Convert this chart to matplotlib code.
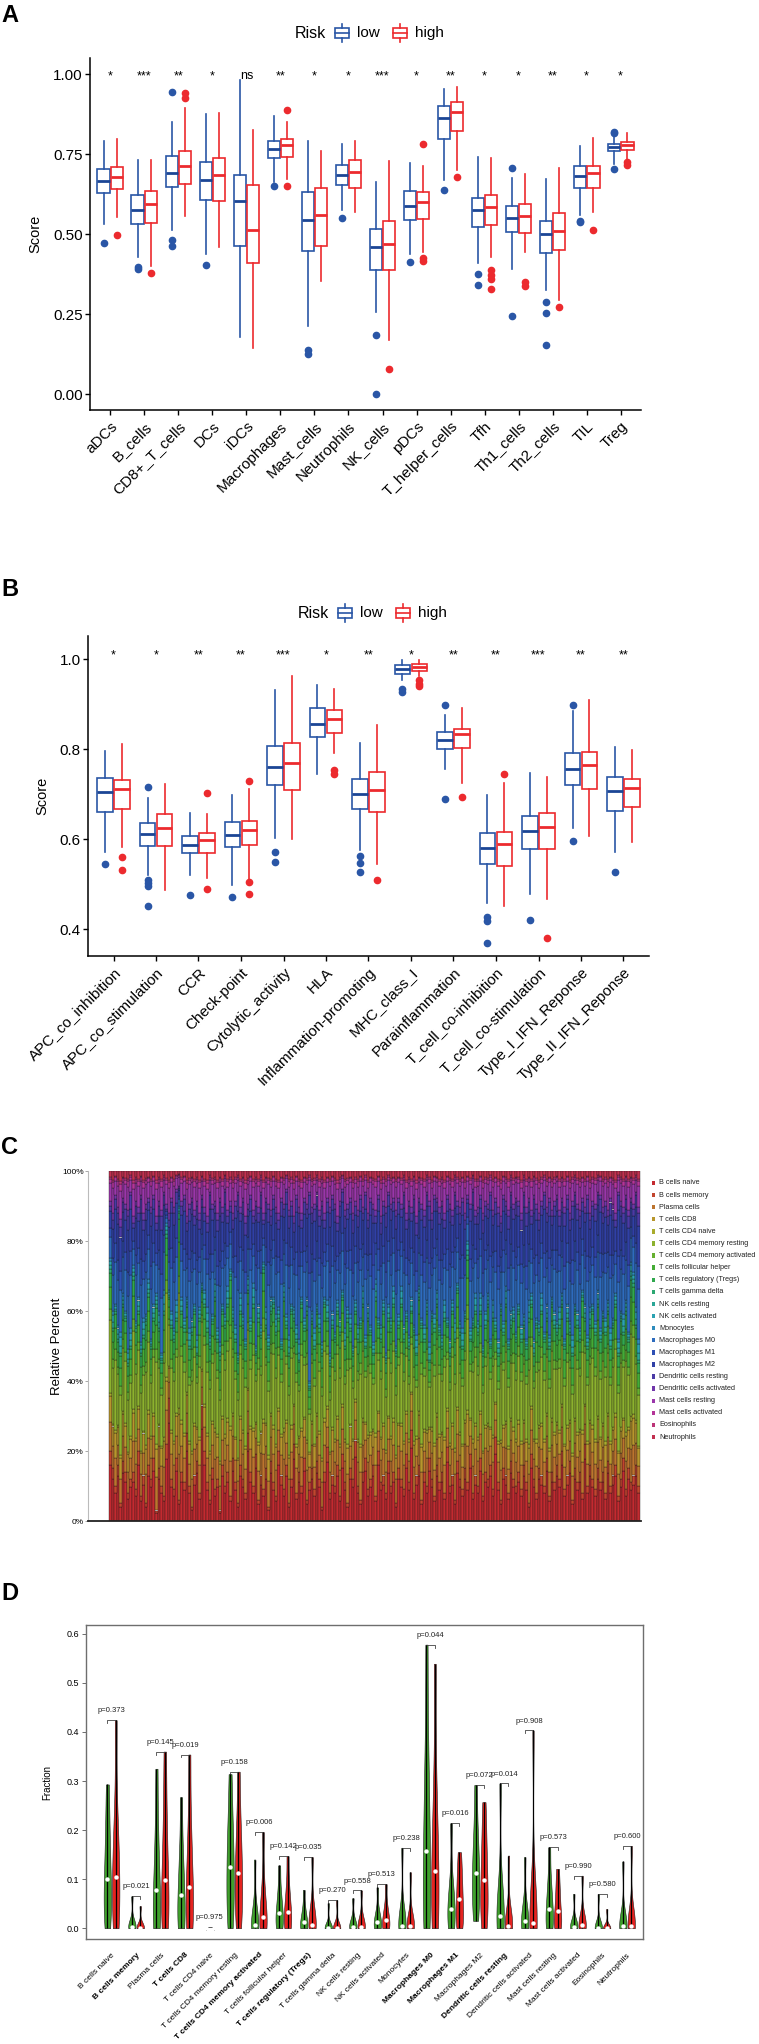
import numpy as np
import matplotlib.pyplot as plt
from matplotlib.patches import Rectangle

plt.rcParams['font.family'] = ['Liberation Sans', 'DejaVu Sans']

BLUE = '#2A56A6'
BLUE_MED = '#1B4595'
RED = '#EC2A2E'
GREEN_V = '#3FA02C'
RED_V = '#E42320'

# ---------------- panel A : immune cell scores ----------------
a_cats = ['aDCs', 'B_cells', 'CD8+_T_cells', 'DCs', 'iDCs', 'Macrophages', 'Mast_cells',
          'Neutrophils', 'NK_cells', 'pDCs', 'T_helper_cells', 'Tfh', 'Th1_cells',
          'Th2_cells', 'TIL', 'Treg']
a_stars = ['*', '***', '**', '*', 'ns', '**', '*', '*', '***', '*', '**', '*', '*', '**', '*', '*']
# (q1, median, q3, whisker low, whisker high)
a_low = [(0.628, 0.666, 0.703, 0.532, 0.791), (0.532, 0.574, 0.621, 0.428, 0.732),
         (0.647, 0.691, 0.743, 0.514, 0.849), (0.607, 0.668, 0.726, 0.439, 0.875),
         (0.463, 0.603, 0.683, 0.179, 0.981), (0.736, 0.766, 0.790, 0.661, 0.868),
         (0.448, 0.543, 0.630, 0.214, 0.790), (0.652, 0.683, 0.715, 0.575, 0.781),
         (0.387, 0.458, 0.516, 0.257, 0.664), (0.545, 0.587, 0.633, 0.436, 0.721),
         (0.796, 0.861, 0.901, 0.670, 0.952), (0.522, 0.574, 0.614, 0.410, 0.742),
         (0.506, 0.550, 0.586, 0.391, 0.675), (0.441, 0.499, 0.541, 0.326, 0.673),
         (0.643, 0.682, 0.714, 0.560, 0.775), (0.759, 0.771, 0.782, 0.720, 0.805)]
a_low_out = [[0.471], [0.396, 0.391], [0.945, 0.482, 0.464], [0.402], [], [0.650],
             [0.136, 0.126], [0.551], [0.184, 0.0], [0.413], [0.636], [0.376, 0.342],
             [0.706, 0.243], [0.289, 0.254, 0.153], [0.540, 0.537], [0.818, 0.815, 0.702]]
a_high = [(0.640, 0.677, 0.708, 0.552, 0.796), (0.534, 0.593, 0.633, 0.399, 0.732),
          (0.656, 0.711, 0.758, 0.557, 0.895), (0.603, 0.685, 0.736, 0.459, 0.879),
          (0.409, 0.514, 0.652, 0.144, 0.825), (0.740, 0.777, 0.796, 0.673, 0.851),
          (0.464, 0.559, 0.643, 0.352, 0.758), (0.644, 0.693, 0.731, 0.568, 0.792),
          (0.389, 0.470, 0.540, 0.170, 0.727), (0.548, 0.600, 0.630, 0.444, 0.711),
          (0.821, 0.880, 0.912, 0.701, 0.960), (0.528, 0.584, 0.622, 0.428, 0.737),
          (0.503, 0.557, 0.594, 0.443, 0.688), (0.449, 0.508, 0.565, 0.295, 0.705),
          (0.643, 0.691, 0.714, 0.569, 0.801), (0.763, 0.777, 0.787, 0.734, 0.815)]
a_high_out = [[0.497], [0.378], [0.940, 0.926], [], [], [0.886, 0.650], [], [], [0.078],
              [0.780, 0.425, 0.417], [0.677], [0.387, 0.372, 0.358, 0.327], [0.350, 0.337],
              [0.271], [0.511], [0.725, 0.716]]

# ---------------- panel B : immune function scores ----------------
b_cats = ['APC_co_inhibition', 'APC_co_stimulation', 'CCR', 'Check-point', 'Cytolytic_activity',
          'HLA', 'Inflammation-promoting', 'MHC_class_I', 'Parainflammation',
          'T_cell_co-inhibition', 'T_cell_co-stimulation', 'Type_I_IFN_Reponse',
          'Type_II_IFN_Reponse']
b_stars = ['*', '*', '**', '**', '***', '*', '**', '*', '**', '**', '***', '**', '**']
b_low = [(0.660, 0.704, 0.736, 0.571, 0.796), (0.585, 0.612, 0.635, 0.521, 0.692),
         (0.570, 0.588, 0.607, 0.521, 0.658), (0.583, 0.610, 0.639, 0.499, 0.698),
         (0.720, 0.761, 0.807, 0.603, 0.931), (0.828, 0.857, 0.892, 0.746, 0.944),
         (0.666, 0.701, 0.734, 0.575, 0.814), (0.967, 0.979, 0.988, 0.955, 0.998),
         (0.801, 0.820, 0.839, 0.755, 0.876), (0.545, 0.581, 0.614, 0.458, 0.699),
         (0.577, 0.618, 0.651, 0.477, 0.748), (0.720, 0.755, 0.791, 0.624, 0.885),
         (0.663, 0.707, 0.738, 0.571, 0.805)]
b_low_out = [[0.544], [0.715, 0.508, 0.502, 0.496, 0.451], [0.476], [0.472], [0.571, 0.550],
             [], [0.563, 0.546, 0.528], [0.933, 0.927], [0.898, 0.689], [0.427, 0.417, 0.370],
             [0.420], [0.898, 0.595], [0.528]]
b_high = [(0.666, 0.712, 0.732, 0.583, 0.812), (0.584, 0.625, 0.655, 0.486, 0.722),
          (0.570, 0.597, 0.614, 0.514, 0.655), (0.587, 0.620, 0.641, 0.508, 0.711),
          (0.709, 0.770, 0.813, 0.600, 0.962), (0.836, 0.868, 0.888, 0.792, 0.933),
          (0.661, 0.710, 0.749, 0.545, 0.855), (0.974, 0.982, 0.990, 0.962, 0.999),
          (0.802, 0.833, 0.846, 0.726, 0.891), (0.541, 0.589, 0.617, 0.451, 0.725),
          (0.579, 0.627, 0.658, 0.467, 0.739), (0.711, 0.764, 0.793, 0.608, 0.909),
          (0.672, 0.714, 0.734, 0.594, 0.798)]
b_high_out = [[0.561, 0.531], [], [0.702, 0.489], [0.729, 0.504, 0.479], [], [0.753, 0.744],
              [0.509], [0.953, 0.946, 0.940], [0.693], [0.745], [0.381], [], []]

# ---------------- panel C : CIBERSORT fractions per sample ----------------
c_types = ['B cells naive', 'B cells memory', 'Plasma cells', 'T cells CD8', 'T cells CD4 naive',
           'T cells CD4 memory resting', 'T cells CD4 memory activated',
           'T cells follicular helper', 'T cells regulatory (Tregs)', 'T cells gamma delta',
           'NK cells resting', 'NK cells activated', 'Monocytes', 'Macrophages M0',
           'Macrophages M1', 'Macrophages M2', 'Dendritic cells resting',
           'Dendritic cells activated', 'Mast cells resting', 'Mast cells activated',
           'Eosinophils', 'Neutrophils']
c_colors = ['#C42A30', '#C2452E', '#BC742E', '#B8962C', '#A9AC2C', '#8CB22E', '#66B030',
            '#44AC36', '#30A84E', '#2CA872', '#2AA696', '#2AA2B2', '#2E8CBC', '#2E6CBE',
            '#2E50B4', '#3040A6', '#4A3AA6', '#7036AA', '#9A36AA', '#B43498', '#BC3478',
            '#C23050']
# per-sample cumulative boundaries (%): top of B cells, top of T cells, NK/monocyte width,
# top of macrophages + resting DCs
c_bcell = [20, 15, 10, 16, 5, 17, 14, 8, 12, 14, 9, 20, 7, 13, 5, 16,
           12, 18, 3, 15, 10, 7, 22, 35, 12, 9, 18, 6, 14, 11, 25, 10,
           4, 13, 17, 8, 33, 20, 11, 6, 15, 9, 12, 3, 16, 10, 14, 7,
           18, 11, 5, 16, 12, 8, 25, 14, 10, 19, 6, 13, 9, 15, 4, 17,
           11, 7, 20, 13, 9, 16, 5, 12, 22, 8, 14, 10, 18, 6, 11, 15,
           9, 17, 12, 4, 14, 21, 8, 13, 10, 16, 7, 19, 11, 5, 15, 12,
           23, 10, 6, 14, 18, 9, 12, 16, 7, 20, 11, 13, 8, 17, 10, 14,
           5, 15, 12, 9, 19, 11, 26, 8, 13, 16, 6, 14, 10, 18, 12, 7,
           16, 11, 14, 8, 21, 10, 13, 6, 17, 12, 9, 15, 11, 19, 8, 13,
           10, 18, 7, 14, 12, 16, 9, 24, 11, 6, 15, 13, 8, 17, 12, 10,
           14, 9, 16, 11, 5, 19, 12, 8, 15, 13, 10, 18, 7, 14, 11, 16,
           12, 20, 9, 13, 17, 6, 15, 11, 14, 8, 22, 10, 16, 12, 9, 15,
           11, 14, 8, 17, 10, 13, 16, 7, 12, 18, 9, 15, 11, 13, 16, 10]
c_ttop = [72, 55, 60, 52, 48, 62, 58, 45, 50, 70, 55, 60, 48, 53, 57, 65,
          50, 58, 62, 55, 46, 60, 82, 64, 56, 52, 58, 88, 60, 55, 62, 50,
          54, 60, 48, 58, 66, 62, 55, 50, 57, 64, 52, 47, 60, 56, 62, 70,
          58, 52, 46, 60, 56, 50, 66, 55, 62, 48, 58, 53, 72, 56, 50, 60,
          62, 54, 58, 50, 64, 56, 48, 60, 58, 52, 46, 62, 55, 60, 38, 57,
          50, 60, 55, 48, 62, 58, 45, 56, 52, 60, 54, 64, 50, 58, 55, 48,
          60, 52, 56, 62, 50, 58, 54, 48, 64, 56, 52, 60, 46, 58, 55, 62,
          48, 56, 62, 52, 58, 50, 60, 54, 48, 64, 56, 52, 60, 46, 58, 55,
          62, 54, 50, 58, 56, 48, 60, 52, 66, 54, 50, 58, 76, 52, 56, 60,
          54, 60, 48, 56, 62, 50, 58, 55, 48, 60, 54, 62, 50, 56, 58, 52,
          60, 52, 56, 50, 58, 62, 48, 56, 54, 60, 52, 58, 50, 62, 56, 54,
          56, 62, 50, 58, 54, 48, 60, 56, 52, 64, 58, 50, 56, 60, 54, 62,
          52, 58, 54, 60, 50, 56, 62, 48, 58, 54, 60, 52, 70, 68, 56, 46]
c_nkw = [3, 5, 2, 4, 6, 3, 2, 4, 5, 3, 2, 4, 3, 5, 2, 4,
         2, 4, 3, 5, 2, 6, 3, 2, 4, 3, 5, 2, 4, 3, 2, 5,
         4, 2, 5, 3, 2, 4, 6, 3, 2, 5, 3, 4, 2, 3, 5, 2,
         3, 4, 2, 5, 3, 2, 4, 3, 6, 2, 4, 3, 2, 5, 3, 4,
         2, 5, 3, 2, 4, 3, 5, 2, 3, 4, 6, 2, 3, 4, 2, 3,
         5, 2, 4, 3, 2, 5, 3, 4, 2, 3, 4, 2, 5, 3, 4, 2,
         3, 4, 2, 5, 3, 4, 2, 3, 5, 2, 4, 3, 2, 4, 3, 5,
         2, 3, 5, 4, 2, 3, 4, 2, 5, 3, 2, 4, 3, 5, 2, 4,
         4, 2, 3, 5, 2, 4, 3, 6, 2, 3, 5, 2, 4, 3, 2, 5,
         3, 5, 2, 4, 3, 2, 5, 3, 4, 2, 3, 5, 2, 4, 3, 2,
         2, 4, 3, 2, 5, 3, 4, 2, 3, 5, 2, 4, 3, 2, 4, 3,
         5, 3, 2, 4, 3, 5, 2, 4, 3, 2, 4, 3, 5, 2, 3, 4,
         3, 2, 4, 3, 5, 2, 3, 4, 2, 5, 3, 2, 4, 3, 5, 6]
c_mactop = [90, 86, 92, 88, 84, 91, 89, 87, 93, 85, 90, 88, 92, 86, 89, 91,
            88, 92, 85, 90, 87, 93, 89, 86, 91, 88, 94, 95, 90, 92, 85, 89,
            91, 87, 90, 86, 92, 88, 85, 93, 89, 90, 86, 91, 88, 94, 87, 90,
            86, 90, 93, 88, 91, 85, 89, 92, 87, 90, 88, 93, 86, 91, 89, 87,
            92, 88, 86, 91, 89, 94, 87, 90, 85, 92, 88, 86, 91, 89, 93, 88,
            89, 93, 87, 90, 86, 91, 88, 92, 89, 85, 90, 94, 87, 89, 91, 86,
            90, 87, 92, 88, 93, 86, 91, 89, 87, 92, 85, 90, 88, 93, 89, 91,
            87, 91, 89, 93, 86, 90, 88, 92, 85, 91, 89, 87, 93, 90, 86, 92,
            91, 88, 90, 86, 92, 89, 87, 93, 90, 88, 91, 86, 92, 89, 94, 87,
            88, 92, 86, 90, 89, 93, 87, 91, 88, 85, 92, 90, 87, 93, 89, 91,
            90, 86, 93, 88, 91, 87, 92, 89, 86, 90, 93, 88, 91, 87, 90, 92,
            87, 91, 88, 92, 86, 90, 93, 89, 87, 91, 88, 92, 86, 90, 89, 93,
            92, 88, 90, 87, 91, 89, 86, 93, 90, 88, 92, 87, 91, 89, 93, 88]
# share of each cell type inside its colour group
c_b_split = [0.80, 0.20]
c_t_split = [0.16, 0.14, 0.02, 0.40, 0.06, 0.12, 0.08, 0.02]
c_nk_split = [0.35, 0.40, 0.25]
c_mac_split = [0.40, 0.18, 0.32, 0.10]
c_top_split = [0.15, 0.50, 0.12, 0.05, 0.18]

# ---------------- panel D : fractions by risk group ----------------
d_bold = [False, True, False, True, False, False, True, False, True, False, False, False,
          False, True, True, False, True, False, False, False, False, False]
d_p = ['0.373', '0.021', '0.145', '0.019', '0.975', '0.158', '0.006', '0.142', '0.035', '0.270',
       '0.558', '0.513', '0.238', '0.044', '0.016', '0.072', '0.014', '0.908', '0.573', '0.990',
       '0.580', '0.600']
# quantiles (min, q10, q25, median, q75, q90, max) for low (green) and high (red) risk
d_low = [[0, 0.03, 0.06, 0.100, 0.15, 0.21, 0.293], [0, 0, 0, 0.003, 0.007, 0.015, 0.065],
         [0, 0.01, 0.03, 0.077, 0.13, 0.20, 0.325], [0, 0.01, 0.03, 0.068, 0.11, 0.16, 0.267],
         [0, 0, 0, 0, 0, 0, 0.002], [0, 0.04, 0.08, 0.124, 0.17, 0.22, 0.314],
         [0, 0, 0, 0.006, 0.02, 0.05, 0.140], [0, 0.005, 0.015, 0.031, 0.05, 0.075, 0.128],
         [0, 0, 0.003, 0.012, 0.025, 0.04, 0.078], [0, 0, 0, 0, 0, 0.005, 0.051],
         [0, 0, 0, 0.003, 0.01, 0.02, 0.061], [0, 0, 0.004, 0.012, 0.022, 0.035, 0.083],
         [0, 0, 0, 0.005, 0.015, 0.03, 0.164], [0, 0.03, 0.08, 0.158, 0.25, 0.35, 0.578],
         [0, 0.01, 0.02, 0.039, 0.06, 0.09, 0.214], [0.015, 0.05, 0.08, 0.113, 0.15, 0.20, 0.292],
         [0, 0, 0.005, 0.025, 0.05, 0.08, 0.295], [0, 0, 0.003, 0.014, 0.03, 0.05, 0.145],
         [0, 0.005, 0.015, 0.039, 0.065, 0.095, 0.165], [0, 0, 0, 0.003, 0.008, 0.015, 0.070],
         [0, 0, 0, 0, 0.001, 0.004, 0.070], [0, 0, 0, 0.004, 0.01, 0.02, 0.136]]
d_high = [[0, 0.03, 0.06, 0.105, 0.16, 0.22, 0.424], [0, 0, 0, 0, 0.003, 0.01, 0.045],
          [0, 0.02, 0.05, 0.099, 0.16, 0.24, 0.360], [0, 0.02, 0.04, 0.085, 0.14, 0.21, 0.354],
          [0, 0, 0, 0, 0, 0, 0.002], [0, 0.04, 0.07, 0.113, 0.16, 0.21, 0.319],
          [0, 0, 0.005, 0.022, 0.045, 0.09, 0.196], [0, 0.005, 0.015, 0.034, 0.055, 0.085, 0.147],
          [0, 0, 0, 0.007, 0.02, 0.045, 0.145], [0, 0, 0, 0, 0, 0.005, 0.057],
          [0, 0, 0, 0.003, 0.01, 0.025, 0.077], [0, 0, 0.005, 0.016, 0.028, 0.045, 0.090],
          [0, 0, 0, 0.005, 0.012, 0.025, 0.114], [0, 0.02, 0.06, 0.117, 0.19, 0.28, 0.539],
          [0, 0.015, 0.03, 0.059, 0.085, 0.115, 0.155], [0, 0.03, 0.06, 0.098, 0.14, 0.19, 0.257],
          [0, 0, 0, 0.005, 0.015, 0.04, 0.148], [0, 0, 0, 0.010, 0.025, 0.05, 0.403],
          [0, 0.005, 0.015, 0.035, 0.06, 0.085, 0.121], [0, 0, 0, 0.006, 0.012, 0.025, 0.107],
          [0, 0, 0, 0, 0, 0.002, 0.039], [0, 0, 0, 0.004, 0.012, 0.025, 0.168]]

W, H = 759, 2044
fig = plt.figure(figsize=(W / 100, H / 100), dpi=100)


def px_axes(x0, y0, x1, y1):
    return fig.add_axes([x0 / W, 1 - y1 / H, (x1 - x0) / W, (y1 - y0) / H])


def box_panel(ax, cats, low, low_out, high, high_out, stars, star_y):
    pos = np.arange(1, len(cats) + 1)
    for stats, outs, off, col, mcol in ((low, low_out, -0.2, BLUE, BLUE_MED),
                                        (high, high_out, 0.2, RED, RED)):
        bx = [dict(q1=s[0], med=s[1], q3=s[2], whislo=s[3], whishi=s[4], fliers=o)
              for s, o in zip(stats, outs)]
        ax.bxp(bx, positions=pos + off, widths=0.36, showcaps=False, patch_artist=True,
               manage_ticks=False,
               boxprops=dict(facecolor='white', edgecolor=col, linewidth=1.2),
               whiskerprops=dict(color=col, linewidth=1.2),
               medianprops=dict(color=mcol, linewidth=2.0),
               flierprops=dict(marker='o', markerfacecolor=col, markeredgecolor=col,
                               markersize=4.5))
    for p, s in zip(pos, stars):
        ax.text(p, star_y, s, ha='center', va='baseline', fontsize=9)
    ax.set_xlim(0.4, len(cats) + 0.6)
    ax.set_xticks(pos)
    ax.set_xticklabels(cats, rotation=45, ha='right', rotation_mode='anchor', fontsize=11)
    for sp in ('top', 'right'):
        ax.spines[sp].set_visible(False)
    for sp in ('left', 'bottom'):
        ax.spines[sp].set_linewidth(1.1)
    ax.tick_params(length=3.8, width=1.0, labelsize=11, pad=1.5)
    ax.tick_params(axis='x', pad=3)
    ax.set_ylabel('Score', fontsize=10.5)


# panel A
axa = px_axes(90, 58, 641, 410)
box_panel(axa, a_cats, a_low, a_low_out, a_high, a_high_out, a_stars, 0.984)
axa.set_ylim(-0.05, 1.05)
axa.set_yticks([0, 0.25, 0.5, 0.75, 1.0])
axa.set_yticklabels(['0.00', '0.25', '0.50', '0.75', '1.00'])
axa.yaxis.set_label_coords((42 - 90) / 551, 0.5)

# panel B
axb = px_axes(88, 636, 649, 956)
box_panel(axb, b_cats, b_low, b_low_out, b_high, b_high_out, b_stars, 1.002)
axb.set_ylim(0.34, 1.052)
axb.set_yticks([0.4, 0.6, 0.8, 1.0])
axb.set_yticklabels(['0.4', '0.6', '0.8', '1.0'])
axb.yaxis.set_label_coords((49 - 88) / 561, 0.5)

# panel C
axc = px_axes(88, 1171, 641, 1521)
n = len(c_bcell)
xs = np.arange(n)
bb = np.array(c_bcell, float)
tt = np.array(c_ttop, float) - bb
kk = np.array(c_nkw, float)
mm = np.array(c_mactop, float) - np.array(c_ttop, float) - kk
rr = 100 - np.array(c_mactop, float)
fracs = np.vstack([np.outer(c_b_split, bb), np.outer(c_t_split, tt), np.outer(c_nk_split, kk),
                   np.outer(c_mac_split, mm), np.outer(c_top_split, rr)])
bottom = np.zeros(n)
for j in range(len(c_types)):
    axc.bar(xs, fracs[j], bottom=bottom, width=1.0, color=c_colors[j],
            edgecolor='#151515', linewidth=0.25)
    bottom += fracs[j]
unit = 531 / n
axc.set_xlim(-0.5 - 21 / unit, n - 0.5 + 1 / unit)
axc.set_ylim(0, 100)
axc.set_xticks([])
axc.set_yticks([0, 20, 40, 60, 80, 100])
axc.set_yticklabels(['0%', '20%', '40%', '60%', '80%', '100%'])
axc.tick_params(axis='y', length=2, width=0.6, color='#999999', labelsize=6, pad=1)
for sp in ('top', 'right'):
    axc.spines[sp].set_visible(False)
axc.spines['left'].set_color('#BBBBBB')
axc.spines['bottom'].set_color('#222222')
axc.spines['bottom'].set_linewidth(1.3)
axc.set_ylabel('Relative Percent', fontsize=9.5)
axc.yaxis.set_label_coords((63 - 88) / 553, 0.5)

# panel D
axd = px_axes(86, 1625, 643, 1939)
for i in range(len(c_types)):
    tops = []
    for q, off, col in ((d_low[i], -0.17, GREEN_V), (d_high[i], 0.17, RED_V)):
        x = i + 1 + off
        if q[-1] - q[0] > 0.004:
            vp = axd.violinplot([q], positions=[x], widths=0.3, showextrema=False,
                                bw_method=0.55)
            for body in vp['bodies']:
                body.set_facecolor(col)
                body.set_edgecolor('#1a1a1a')
                body.set_linewidth(0.4)
                body.set_alpha(1)
        axd.vlines(x, q[0], q[-1], color='black', lw=0.9, zorder=3)
        axd.scatter([x], [q[3]], s=10, color='white', zorder=4, linewidths=0)
        tops.append((x, q[-1]))
    yb = max(tops[0][1], tops[1][1])
    axd.plot([tops[0][0], tops[0][0], tops[1][0], tops[1][0]],
             [yb - 0.006, yb, yb, yb - 0.006], color='#444444', lw=0.6)
    axd.text(i + 1, yb + 0.012, 'p=' + d_p[i], ha='center', va='bottom', fontsize=5.5,
             color='#222222')
axd.set_xlim(-0.04, 22.65)
axd.set_ylim(-0.022, 0.618)
axd.set_yticks([0, 0.1, 0.2, 0.3, 0.4, 0.5, 0.6])
axd.set_yticklabels(['0.0', '0.1', '0.2', '0.3', '0.4', '0.5', '0.6'])
axd.set_xticks(np.arange(1, len(c_types) + 1))
axd.set_xticklabels(c_types, rotation=45, ha='right', rotation_mode='anchor', fontsize=6)
for lab, bold in zip(axd.get_xticklabels(), d_bold):
    if bold:
        lab.set_fontweight('bold')
axd.tick_params(axis='x', length=0, pad=9)
axd.tick_params(axis='y', length=3, width=0.6, color='#555555', labelsize=6.5, pad=2)
for sp in axd.spines.values():
    sp.set_color('#6E6E6E')
    sp.set_linewidth(1.0)
axd.set_ylabel('Fraction', fontsize=7)
axd.yaxis.set_label_coords((52 - 86) / 557, 0.5)

# overlay for panel letters and legends (pixel coordinates)
ov = fig.add_axes([0, 0, 1, 1])
ov.set_xlim(0, W)
ov.set_ylim(H, 0)
ov.axis('off')
ov.patch.set_alpha(0)

for letter, ly in (('A', 15), ('B', 590), ('C', 1148), ('D', 1593)):
    ov.text(1, ly, letter, fontsize=17, fontweight='bold', ha='left', va='center')


def risk_legend(x, y):
    ov.text(x, y, 'Risk', fontsize=11.5, va='center', ha='left')
    for xi, col, lab in ((x + 40, BLUE, 'low'), (x + 98, RED, 'high')):
        ov.add_patch(Rectangle((xi, y - 5), 14, 10, fill=False, edgecolor=col, lw=1.2))
        ov.plot([xi + 7, xi + 7], [y - 9, y - 5], color=col, lw=1.2)
        ov.plot([xi + 7, xi + 7], [y + 5, y + 9], color=col, lw=1.2)
        ov.plot([xi, xi + 14], [y, y], color=col, lw=1.2)
        ov.text(xi + 22, y, lab, fontsize=11, va='center', ha='left')


risk_legend(295, 33)
risk_legend(298, 613)

for j, (name, col) in enumerate(zip(c_types, c_colors)):
    yy = 1183 + 12.1 * j
    ov.add_patch(Rectangle((652, yy - 2.2), 3.2, 4.4, color=col, lw=0))
    ov.text(659, yy, name, fontsize=5.2, va='center', ha='left', color='#222222')

fig.savefig('out.png', dpi=100, facecolor='white')
